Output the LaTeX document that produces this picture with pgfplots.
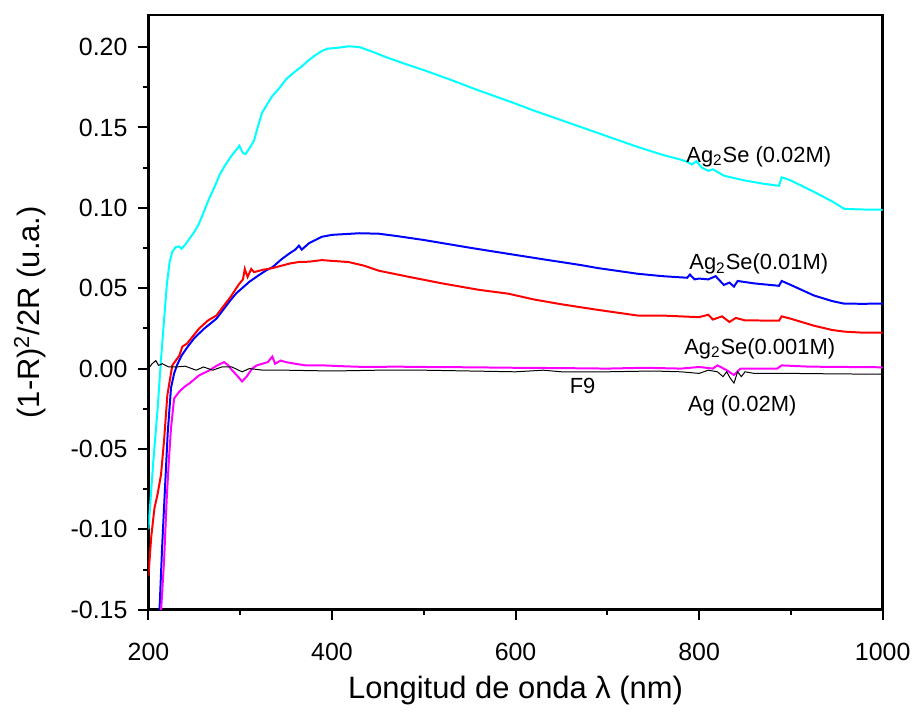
\documentclass[border=0pt]{standalone}
\usepackage{fontspec}
\setmainfont{Liberation Sans}
\usepackage{pgfplots}
\pgfplotsset{compat=1.18}
\definecolor{mycyan}{RGB}{0,255,255}
\definecolor{mymagenta}{RGB}{255,0,255}
\definecolor{myblue}{RGB}{0,0,255}
\definecolor{myred}{RGB}{255,0,0}
\begin{document}
\begin{tikzpicture}
\begin{axis}[
  at={(0,0)}, anchor=south west,
  scale only axis,
  width=368.5pt, height=298.5pt,
  xmin=200, xmax=1000, ymin=-0.15, ymax=0.22,
  axis line style={line width=1.3pt},
  every tick/.style={line width=1pt, black},
  xtick={200,400,600,800,1000},
  minor x tick num=1,
  ytick={-0.15,-0.10,-0.05,0,0.05,0.10,0.15,0.20},
  yticklabels={-0.15,-0.10,-0.05,0.00,0.05,0.10,0.15,0.20},
  minor y tick num=1,
  tick align=outside,
  xtick pos=bottom, ytick pos=left,
  major tick length=5pt, minor tick length=2.5pt,
  /pgf/number format/assume math mode=true,
  /pgf/number format/1000 sep={},
  tick label style={font=\fontsize{12.5}{14}\selectfont},
  xticklabel style={yshift=-8pt},
  yticklabel style={xshift=-2pt},
  xlabel={Longitud de onda λ (nm)},
  ylabel={(1-R)\textsuperscript{2}/2R (u.a.)},
  label style={font=\fontsize{15.5}{18}\selectfont},
  xlabel style={at={(axis description cs:0.5,-0.1357)}, anchor=center},
  ylabel style={at={(axis description cs:-0.1615,0.5)}, anchor=center},
  clip=true,
]
% cyan Ag2Se 0.02M
\addplot[color=mycyan, line width=1pt] coordinates {
(200,-0.100) (205,-0.060) (210,-0.025) (214,0.008) (217,0.030) (220,0.052) (223,0.066) (226,0.0727) (230,0.0757) (233.6,0.0760) (236,0.0745) (240,0.077) (245,0.081) (250,0.085) (255,0.090) (260,0.097) (266,0.1056) (272,0.113) (278,0.121) (283,0.126) (290,0.132) (297,0.137) (299,0.1386) (303,0.134) (306,0.1335) (310,0.137) (315,0.1418) (320,0.152) (324,0.1594) (330,0.165) (335,0.1696) (342,0.174) (350,0.180) (358,0.184) (367,0.188) (375,0.192) (382,0.195) (389,0.1976) (395,0.199) (405,0.1995) (418,0.2005) (430,0.2000) (447,0.1965) (460,0.1935) (480,0.1895) (500,0.1857) (530,0.1795) (560,0.173) (592,0.1665) (620,0.1605) (650,0.1545) (690,0.1465) (733,0.1379) (760,0.133) (780,0.130) (787,0.1286) (792,0.127) (797,0.129) (803,0.125) (810,0.123) (815,0.124) (827,0.120) (850,0.117) (870,0.115) (887,0.1137) (890,0.119) (900,0.117) (925,0.110) (945,0.104) (958,0.0994) (975,0.0990) (1000,0.0988)
};
% blue Ag2Se 0.01M
\addplot[color=myblue, line width=1pt] coordinates {
(212,-0.151) (215,-0.110) (218,-0.075) (221,-0.040) (224.6,-0.012) (228,-0.003) (231,0.002) (236,0.008) (242,0.013) (250,0.019) (261,0.025) (274,0.031) (282,0.037) (290,0.043) (296,0.047) (302,0.050) (310,0.054) (320,0.058) (328,0.061) (335,0.063) (345,0.068) (353,0.0714) (360,0.074) (364,0.0765) (367,0.074) (375,0.078) (389,0.082) (400,0.0832) (418,0.0838) (430,0.0842) (451,0.0839) (470,0.0825) (500,0.0800) (550,0.0752) (592,0.0714) (630,0.068) (670,0.0645) (690,0.0625) (733,0.059) (760,0.0575) (787,0.0565) (790,0.0585) (795,0.0555) (800,0.056) (810,0.0555) (818,0.0575) (827,0.052) (833,0.0535) (838,0.051) (842,0.0545) (860,0.053) (887,0.0515) (890,0.0545) (900,0.052) (925,0.0455) (945,0.042) (958,0.0404) (980,0.0403) (1000,0.0405)
};
% red Ag2Se 0.001M
\addplot[color=myred, line width=1pt] coordinates {
(200,-0.129) (203,-0.105) (206.5,-0.087) (210,-0.078) (213.7,-0.066) (217,-0.045) (220.6,-0.0166) (226,0.002) (233.6,0.008) (237,0.0137) (242,0.0155) (255,0.0248) (265,0.030) (274,0.033) (282,0.039) (290,0.045) (298,0.052) (303,0.0555) (305,0.062) (308,0.057) (312,0.062) (315,0.060) (325,0.0615) (335,0.0625) (345,0.064) (355,0.0655) (364,0.0663) (375,0.0665) (389,0.0675) (400,0.067) (418,0.0663) (435,0.064) (451,0.0609) (480,0.0575) (520,0.053) (560,0.049) (592,0.0466) (620,0.043) (650,0.040) (690,0.0365) (733,0.033) (760,0.033) (787,0.0323) (800,0.0320) (810,0.0335) (815,0.0305) (825,0.0325) (833,0.029) (840,0.0315) (850,0.030) (887,0.0298) (890,0.0325) (900,0.031) (925,0.0267) (945,0.0240) (958,0.0230) (980,0.0223) (1000,0.0224)
};
% magenta Ag 0.02M
\addplot[color=mymagenta, line width=1pt] coordinates {
(213.7,-0.151) (217,-0.120) (220,-0.080) (222.5,-0.055) (224.6,-0.037) (228,-0.0186) (233.6,-0.0143) (240,-0.011) (244.5,-0.0093) (255,-0.0043) (266,-0.0012) (275,0.002) (282.5,0.004) (287,0.002) (291,-0.001) (296,-0.004) (302,-0.008) (307,-0.005) (313,0.000) (318,0.002) (324,0.003) (330,0.004) (335,0.0075) (338,0.003) (344,0.005) (350,0.004) (360,0.003) (371,0.002) (390,0.002) (410,0.0015) (436,0.001) (470,0.0012) (500,0.001) (550,0.0008) (600,0.0005) (650,0.0003) (700,0.000) (740,0.0005) (780,0.000) (800,0.001) (815,0.000) (820,0.002) (830,-0.001) (838,-0.004) (845,0.000) (860,0.000) (885,0.000) (890,0.002) (920,0.0012) (960,0.001) (1000,0.0008)
};
% black F9
\addplot[color=black, line width=0.5pt] coordinates {
(200,0.000) (204,0.003) (208,0.005) (211,0.002) (215,0.003) (222,0.001) (230,0.001) (240,0.0015) (252,-0.001) (260,0.001) (270,-0.001) (280,0.001) (291,0.001) (302,-0.002) (310,0.000) (325,-0.001) (350,-0.001) (400,-0.0015) (450,-0.001) (500,-0.001) (550,-0.0015) (600,-0.002) (630,-0.001) (650,-0.002) (700,-0.002) (750,-0.0015) (780,-0.002) (800,-0.003) (810,-0.001) (820,-0.002) (826,-0.005) (830,-0.002) (834,-0.006) (838,-0.009) (842,-0.002) (846,-0.005) (850,-0.002) (860,-0.003) (900,-0.003) (950,-0.0033) (1000,-0.0035)
};
\node[font=\fontsize{11}{13}\selectfont] at (axis cs:865,0.132) {Ag\textsubscript{2}Se (0.02M)};
\node[font=\fontsize{11}{13}\selectfont] at (axis cs:865,0.065) {Ag\textsubscript{2}Se(0.01M)};
\node[font=\fontsize{11}{13}\selectfont] at (axis cs:866,0.0124) {Ag\textsubscript{2}Se(0.001M)};
\node[font=\fontsize{11}{13}\selectfont] at (axis cs:673,-0.011) {F9};
\node[font=\fontsize{11}{13}\selectfont] at (axis cs:847,-0.023) {Ag (0.02M)};
\end{axis}
\path (-74.5pt,-49pt) rectangle (384pt,306pt);
\end{tikzpicture}
\end{document}
